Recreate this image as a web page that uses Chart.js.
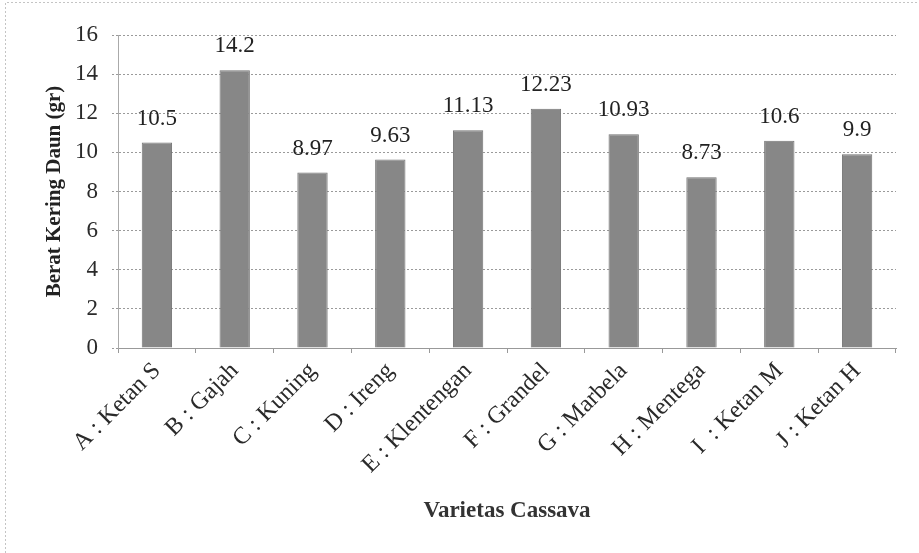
<!DOCTYPE html>
<html>
<head>
<meta charset="utf-8">
<script src="https://cdn.jsdelivr.net/npm/chart.js@4/dist/chart.umd.min.js"></script>
<style>
  html, body { margin: 0; padding: 0; background: #fff; }
</style>
</head>
<body>
<canvas id="chart" width="919" height="553"></canvas>
<script>
// data
const varietas = ['A : Ketan S', 'B : Gajah', 'C : Kuning', 'D : Ireng', 'E : Klentengan',
  'F : Grandel', 'G : Marbela', 'H : Mentega', 'I  : Ketan M', 'J : Ketan H'];
const beratKering = [10.5, 14.2, 8.97, 9.63, 11.13, 12.23, 10.93, 8.73, 10.6, 9.9];
const yTitle = 'Berat Kering Daun (gr)';
const xTitle = 'Varietas Cassava';

const serif = '"Liberation Serif", "Times New Roman", serif';

// value labels above each bar
const valueLabels = {
  id: 'valueLabels',
  afterDatasetsDraw(chart) {
    const ctx = chart.ctx;
    const meta = chart.getDatasetMeta(0);
    ctx.save();
    ctx.font = '23px ' + serif;
    ctx.fillStyle = '#222';
    ctx.textAlign = 'center';
    ctx.textBaseline = 'middle';
    meta.data.forEach((bar, i) => {
      ctx.fillText(String(beratKering[i]), bar.x, bar.y - 24);
    });
    ctx.restore();
  }
};

// white page with faint dotted frame on top and left
const pageFrame = {
  id: 'pageFrame',
  beforeDraw(chart) {
    const ctx = chart.ctx;
    ctx.save();
    ctx.fillStyle = '#fff';
    ctx.fillRect(0, 0, chart.width, chart.height);
    ctx.strokeStyle = '#c4c4c4';
    ctx.setLineDash([2, 2]);
    ctx.lineWidth = 1;
    ctx.beginPath();
    ctx.moveTo(5.5, 553);
    ctx.lineTo(5.5, 2.5);
    ctx.lineTo(919, 2.5);
    ctx.stroke();
    ctx.restore();
  }
};

new Chart('chart', {
  type: 'bar',
  data: {
    labels: varietas,
    datasets: [{
      data: beratKering,
      backgroundColor: '#878787',
      borderColor: '#747474',
      borderWidth: 1,
      categoryPercentage: 1,
      barPercentage: 0.39
    }]
  },
  options: {
    responsive: false,
    animation: false,
    devicePixelRatio: 1,
    layout: { padding: { top: 35, right: 23, left: 0, bottom: 0 } },
    plugins: {
      legend: { display: false },
      tooltip: { enabled: false }
    },
    scales: {
      x: {
        afterFit: scale => { scale.height = 205; },
        grid: { drawOnChartArea: false, color: '#999', tickLength: 5 },
        border: { color: '#999' },
        ticks: {
          color: '#2a2a2a',
          autoSkip: false,
          minRotation: 45,
          maxRotation: 45,
          padding: 4,
          font: { family: serif, size: 24 }
        },
        title: {
          display: true,
          text: xTitle,
          color: '#333',
          font: { family: serif, size: 23, weight: 'bold' },
          padding: { top: 0, bottom: 28 }
        }
      },
      y: {
        min: 0,
        max: 16,
        afterFit: scale => { scale.width = 118; },
        ticks: {
          stepSize: 2,
          color: '#2a2a2a',
          padding: 14,
          font: { family: serif, size: 23 }
        },
        grid: {
          color: '#9a9a9a',
          tickLength: 6,
          tickBorderDash: [2, 2]
        },
        border: { color: '#aaa', dash: [2, 2] },
        title: {
          display: true,
          text: yTitle,
          color: '#222',
          font: { family: serif, size: 21, weight: 'bold' },
          padding: { top: 42, bottom: 0 }
        }
      }
    }
  },
  plugins: [pageFrame, valueLabels]
});
</script>
</body>
</html>
